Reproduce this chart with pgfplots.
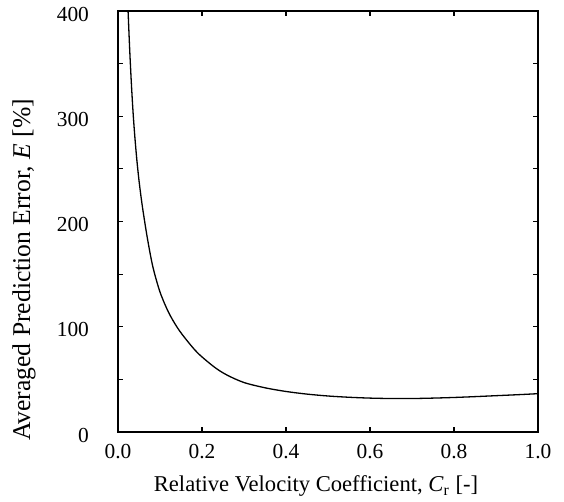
\documentclass[border=0pt]{standalone}
\usepackage{fontspec}
\setmainfont{Liberation Serif}
\usepackage{pgfplots}
\pgfplotsset{compat=1.18}
\begin{document}
\begin{tikzpicture}
\begin{axis}[
  at={(0,0)}, anchor=south west,
  scale only axis, width=210pt, height=210.5pt,
  xmin=0, xmax=1, ymin=0, ymax=400,
  axis line style={line width=0.9pt},
  tick style={line width=0.6pt, black},
  tick align=inside, major tick length=2.5pt, minor tick length=2.5pt,
  xtick={0,0.2,0.4,0.6,0.8,1},
  xticklabels={0.0,0.2,0.4,0.6,0.8,1.0},
  ytick={0,100,200,300,400},
  minor ytick={50,150,250,350},
  /pgf/number format/assume math mode=true,
  tick label style={font=\fontsize{10.7}{12}\selectfont},
  xlabel style={font=\fontsize{11.3}{13}\selectfont},
  ylabel style={font=\fontsize{12.8}{14}\selectfont},
  xticklabel style={yshift=-2.5pt},
  yticklabel style={xshift=-11pt, yshift=-1.5pt},
  xlabel={Relative Velocity Coefficient, \textit{C}\textsubscript{r} [-]},
  ylabel={Averaged Prediction Error, \textit{E} [\%]},
  xlabel style={at={(axis description cs:0.5,0)}, anchor=base, yshift=-30pt, xshift=-6pt},
  ylabel style={at={(axis description cs:-0.2238,0.385)}, anchor=center},
]
\addplot[black, line width=0.65pt, smooth] coordinates {
(0.023,412) (0.024,400) (0.028,362) (0.032,330) (0.036,303) (0.040,281)
(0.045,258) (0.050,239) (0.055,223) (0.060,209) (0.070,184) (0.083,157)
(0.100,133) (0.120,114) (0.140,100) (0.160,89) (0.190,75) (0.230,61.5)
(0.260,54) (0.300,47) (0.350,42) (0.400,38.5) (0.450,36) (0.500,34.2)
(0.550,33) (0.600,32.2) (0.650,31.8) (0.700,31.8) (0.750,32.2)
(0.800,32.8) (0.850,33.6) (0.900,34.5) (0.950,35.4) (1.000,36.4)
};
\end{axis}
\pgfresetboundingbox
\useasboundingbox (-59pt,-35pt) rectangle (223pt,216pt);
\end{tikzpicture}
\end{document}
